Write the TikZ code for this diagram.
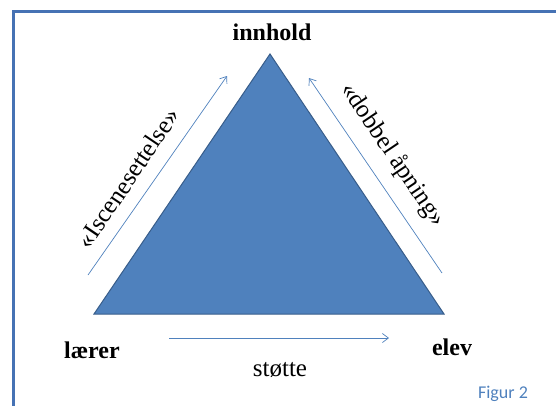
\documentclass[tikz,border=0pt]{standalone}
\usepackage{fontspec}
\setmainfont{Liberation Serif}
\newfontfamily\figfont{Carlito}
\usetikzlibrary{arrows.meta}
\definecolor{accent}{HTML}{4F81BD}
\definecolor{accentdark}{HTML}{385D8A}
\definecolor{framecol}{HTML}{4672B4}
\tikzset{
  corner/.style={font=\fontsize{24}{28}\selectfont\bfseries, anchor=base},
  edgelabel/.style={font=\fontsize{25}{30}\selectfont},
  relarrow/.style={draw=accent, line width=0.7pt, -{Straight Barb[length=6pt,width=9pt]}},
}
\begin{document}
\begin{tikzpicture}[x=1pt,y=-1pt]
  \useasboundingbox (0,0) rectangle (556,405);
  \draw[framecol, line width=3pt] (13.5,11.5) rectangle (620,460);
  % triangle
  \draw
    (270,54) coordinate (top)
    (94,314) coordinate (left)
    (444,314) coordinate (right);
  \filldraw[fill=accent, draw=accentdark, line width=1pt] (top) -- (left) -- (right) -- cycle;
  % corner labels
  \node[corner] (innhold) at (272,40) {innhold};
  \node[corner] (laerer) at (92,358) {lærer};
  \node[corner] (elev) at (452,355) {elev};
  \node[edgelabel, anchor=base] (stotte) at (280,376) {støtte};
  \node[edgelabel, rotate=56] (iscene) at (128,178) {«Iscenesettelse»};
  \node[edgelabel, rotate=-56] (dobbel) at (393,155) {«dobbel åpning»};
  \node[font=\figfont\fontsize{18}{21}\selectfont, text=accent, anchor=base] (figur) at (503,398) {Figur 2};
  % arrows
  \draw
    (88,275) coordinate (a1)
    (227,76) coordinate (a2)
    (309,78) coordinate (b1)
    (442,273) coordinate (b2)
    (169,338) coordinate (c1)
    (389,338) coordinate (c2);
  \begin{scope}[relarrow]
    \draw (a1) to (a2);
    \draw[{Straight Barb[length=6pt,width=9pt]}-] (b1) to (b2);
    \draw (c1) to (c2);
  \end{scope}
\end{tikzpicture}
\end{document}
